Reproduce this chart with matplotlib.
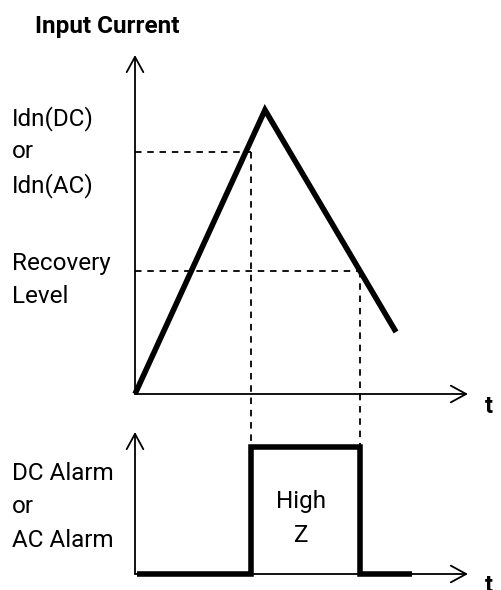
import matplotlib.pyplot as plt

plt.rcParams['font.family'] = ['Roboto', 'DejaVu Sans']

# time axis (px-like units from origin)
t_current = [0, 130, 261]
current = [0, 284, 62]
idn_level = 242
recovery_level = 123
t_trip = 116
t_recover = 225

t_alarm = [2, t_trip, t_trip, t_recover, t_recover, 277]
alarm = [0, 0, 127, 127, 0, 0]

top_labels = ["Idn(DC)", "or", "Idn(AC)", "Recovery", "Level"]
top_label_y = [269, 236, 202, 124, 91]
bottom_labels = ["DC Alarm", "or", "AC Alarm"]
bottom_label_y = [94, 61, 27]

W, H = 501, 590
fig = plt.figure(figsize=(W / 100, H / 100), dpi=100)

# top panel: figure rows 0..420
ax1 = fig.add_axes([0, 170 / H, 1, 420 / H])
ax1.set_xlim(-135, 366)
ax1.set_ylim(-26, 394)
ax1.axis('off')

# bottom panel: figure rows 420..590
ax2 = fig.add_axes([0, 0, 1, 170 / H])
ax2.set_xlim(-135, 366)
ax2.set_ylim(-16, 154)
ax2.axis('off')

arrow = dict(arrowstyle='->,head_length=0.55,head_width=0.3', lw=1.3, color='black',
             shrinkA=0, shrinkB=0, mutation_scale=20)

for ax, ytop in [(ax1, 339), (ax2, 142)]:
    ax.annotate("", xy=(0, ytop), xytext=(0, 0), arrowprops=arrow)
    ax.annotate("", xy=(333, 0), xytext=(0, 0), arrowprops=arrow)

# dashed guides, running down to the top of the alarm pulse
dash = dict(color='black', lw=1.3, linestyle=(0, (3.6, 3.2)), clip_on=False)
pulse_top = -(447 - 394)
ax1.plot([0, t_trip], [idn_level, idn_level], **dash)
ax1.plot([0, t_recover], [recovery_level, recovery_level], **dash)
ax1.plot([t_trip, t_trip], [idn_level, pulse_top], **dash)
ax1.plot([t_recover, t_recover], [recovery_level, pulse_top], **dash)

# current waveform
ax1.plot(t_current, current, color='black', lw=4, solid_joinstyle='miter',
         solid_capstyle='butt')

# alarm output
ax2.plot(t_alarm, alarm, color='black', lw=4, solid_joinstyle='miter',
         solid_capstyle='butt', clip_on=False)

fs = 17.5
for lab, y in zip(top_labels, top_label_y):
    ax1.text(-123, y, lab, fontsize=fs, ha='left', va='baseline')
for lab, y in zip(bottom_labels, bottom_label_y):
    ax2.text(-123, y, lab, fontsize=fs, ha='left', va='baseline')

ax1.text(-100, 361, "Input Current", fontsize=17.5, fontweight='bold', ha='left', va='baseline')
ax1.text(350, -19, "t", fontsize=17, fontweight='bold', ha='left', va='baseline')
ax2.text(350, -18, "t", fontsize=17, fontweight='bold', ha='left', va='baseline', clip_on=False)

ax2.text(166, 66, "High", fontsize=fs, ha='center', va='baseline')
ax2.text(166, 32, "Z", fontsize=fs, ha='center', va='baseline')

fig.savefig("out.png", dpi=100)
